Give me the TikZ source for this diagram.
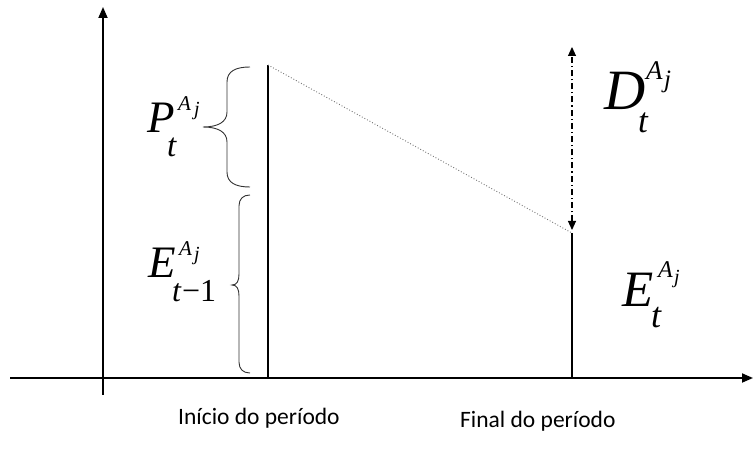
\documentclass[tikz,border=0pt]{standalone}
\usepackage{fontspec}
\setmainfont{Liberation Serif}
\newfontfamily\lblfont{Carlito}
\usetikzlibrary{arrows.meta}
\newcommand\fsz[1]{\fontsize{#1}{#1}\selectfont}
\tikzset{
  axis/.style={line width=1.8pt, -{Triangle[length=11pt,width=9pt]}},
  stem/.style={line width=1.1pt},
  bracepath/.style={line width=0.9pt, draw=black!80},
  sym/.style={inner sep=0pt, anchor=base west, font=\itshape},
  lbl/.style={inner sep=0pt, anchor=base west, font=\lblfont\fsz{23.5}},
}
\begin{document}
\begin{tikzpicture}[x=1pt,y=1pt]
\useasboundingbox (0,0) rectangle (753,450);
% axes
\coordinate (yb) at (103,55);
\coordinate (yt) at (103,443);
\coordinate (xl) at (10,72);
\coordinate (xr) at (753,72);
\draw[axis] (yb) -- (yt);
\draw[axis] (xl) -- (xr);
% vertical stems
\coordinate (a0) at (268,72);
\coordinate (a1) at (268,385);
\coordinate (b0) at (572,72);
\coordinate (b1) at (572,217);
\draw[stem] (a0) -- (a1);
\draw[stem] (b0) -- (b1);
% dotted decline
\draw[black!55, line width=0.9pt, dotted] (a1) -- (b1);
% dash-dot double arrow
\coordinate (d0) at (572,220);
\coordinate (d1) at (572,403);
\draw[line width=1.1pt, dash pattern=on 6pt off 3pt on 1.2pt off 3pt,
  {Triangle[length=9pt,width=8pt]}-{Triangle[length=9pt,width=8pt]}] (d0) -- (d1);
% braces
\draw[bracepath] (250,383) .. controls (236,383) and (227,379) .. (227,368)
  -- (227,338) .. controls (227,328) and (218,323) .. (203,323)
  .. controls (218,323) and (227,318) .. (227,308)
  -- (227,278) .. controls (227,267) and (236,263) .. (250,263);
\draw[bracepath] (250,255) .. controls (243,255) and (239,251) .. (239,244)
  -- (239,176) .. controls (239,169) and (237,165) .. (232,165)
  .. controls (237,165) and (239,161) .. (239,154)
  -- (239,88) .. controls (239,81) and (243,77) .. (250,77);
% P_t^{A_j}
\node[sym] (P)  at (147,317)   {\fsz{45}P};
\node[sym] (PA) at (178,339)   {\fsz{21}A};
\node[sym] (Pj) at (194,334.5) {\fsz{20}j};
\node[sym] (Pt) at (167,293)   {\fsz{33}t};
% E_{t-1}^{A_j}
\node[sym] (E1)  at (148,172)   {\fsz{45}E};
\node[sym] (E1A) at (179,194)   {\fsz{21}A};
\node[sym] (E1j) at (194,189.4) {\fsz{20}j};
\node[sym] (E1t) at (172,148)   {\fsz{32}t\upshape\kern1pt−1};
% D_t^{A_j}
\node[sym] (D)  at (604,340)   {\fsz{57}D};
\node[sym] (DA) at (646,370)   {\fsz{27}A};
\node[sym] (Dj) at (664,362.5) {\fsz{25}j};
\node[sym] (Dt) at (638,317)   {\fsz{35}t};
% E_t^{A_j}
\node[sym] (E)  at (622,143)   {\fsz{51}E};
\node[sym] (EA) at (658,172)   {\fsz{24}A};
\node[sym] (Ej) at (674,166.4) {\fsz{20}j};
\node[sym] (Et) at (651,122)   {\fsz{36}t};
% axis labels
\node[lbl] (ini) at (178,25) {Início do período};
\node[lbl] (fin) at (460,22) {Final do período};
\end{tikzpicture}
\end{document}
